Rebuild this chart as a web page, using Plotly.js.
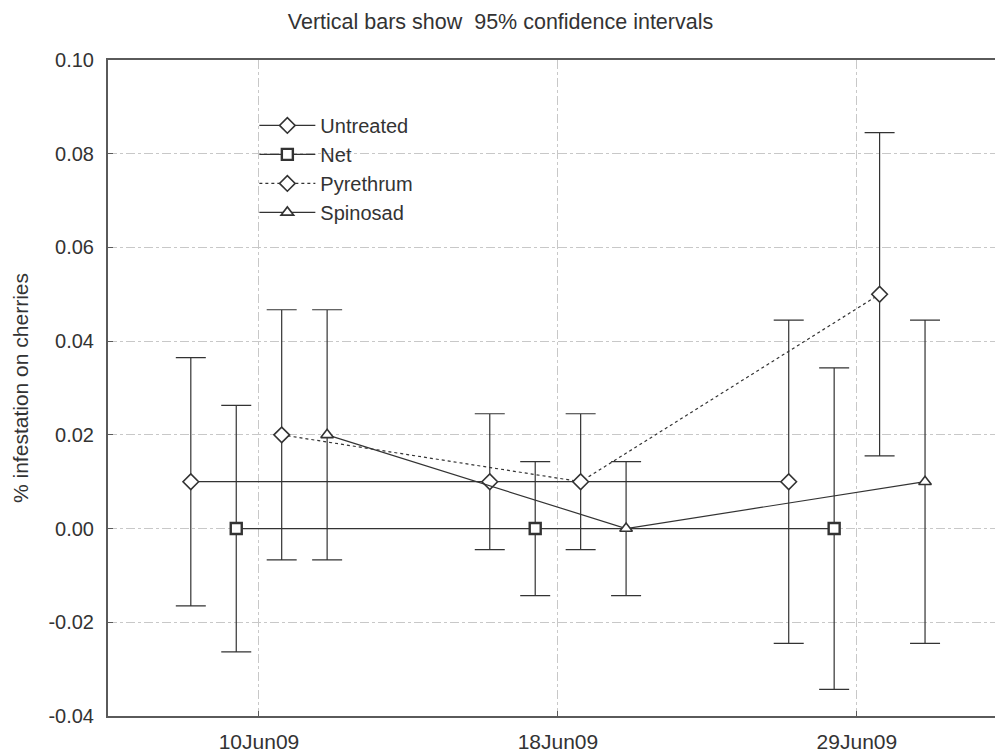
<!DOCTYPE html>
<html>
<head>
<meta charset="utf-8">
<script src="https://cdn.plot.ly/plotly-3.0.1.min.js"></script>
<style>html,body{margin:0;padding:0;background:#fff;}#chart{width:997px;height:752px;}</style>
</head>
<body>
<div id="chart"></div>
<script>
// ---- data ----
const dates = ['10Jun09', '18Jun09', '29Jun09'];
const seriesNames = ['Untreated', 'Net', 'Pyrethrum', 'Spinosad'];
const untreated = [0.01, 0.01, 0.01];
const untreatedCI = [0.0265, 0.0145, 0.0345];
const net = [0.0, 0.0, 0.0];
const netCI = [0.0263, 0.0143, 0.0343];
const pyrethrum = [0.02, 0.01, 0.05];
const pyrethrumCI = [0.0267, 0.0145, 0.0345];
const spinosad = [0.02, 0.0, 0.01];
const spinosadCI = [0.0267, 0.0143, 0.0345];
const yTicks = [-0.04, -0.02, 0.00, 0.02, 0.04, 0.06, 0.08, 0.10];

// ---- styling ----
const ink = '#333333';
const offsets = [-0.228, -0.076, 0.076, 0.228];
const styles = [
  {symbol: 'diamond', size: 12, dash: 'solid'},
  {symbol: 'square', size: 11, dash: 'solid'},
  {symbol: 'diamond', size: 12, dash: 'dot'},
  {symbol: 'triangle-up', size: 11, dash: 'solid'}
];
const values = [untreated, net, pyrethrum, spinosad];
const cis = [untreatedCI, netCI, pyrethrumCI, spinosadCI];

const traces = seriesNames.map((name, s) => ({
  type: 'scatter',
  mode: 'lines+markers',
  name: name,
  x: dates.map((d, i) => i + offsets[s]),
  y: values[s],
  line: {color: ink, width: 1.2, dash: styles[s].dash},
  marker: {symbol: styles[s].symbol, size: styles[s].size, color: '#ffffff',
           line: {color: ink, width: s === 1 ? 2.4 : 1.6}},
  error_y: {type: 'data', array: cis[s], visible: true, color: ink, thickness: 1.2, width: 15}
}));

const layout = {
  width: 997, height: 752,
  margin: {l: 108, r: 2, t: 60, b: 36},
  paper_bgcolor: '#ffffff', plot_bgcolor: '#ffffff',
  font: {family: 'Liberation Sans, Arial, sans-serif', color: ink, size: 21},
  title: {text: 'Vertical bars show&nbsp;&nbsp;95% confidence intervals', x: 0.502, xref: 'container',
          y: 0.971, yref: 'container', yanchor: 'middle', font: {size: 21.5, color: ink}},
  showlegend: true,
  legend: {x: 0.165, y: 0.93, xanchor: 'left', yanchor: 'top', bgcolor: 'rgba(0,0,0,0)',
           font: {size: 20, color: ink}, traceorder: 'normal', itemwidth: 56},
  xaxis: {
    range: [-0.505, 2.462],
    tickvals: dates.map((d, i) => i), ticktext: dates,
    showgrid: true, gridcolor: '#c8c8c8', griddash: 'dashdot', gridwidth: 1,
    zeroline: false, showline: true, linecolor: '#5a5a5a', linewidth: 2, mirror: true,
    ticks: 'inside', ticklen: 5, tickcolor: '#5a5a5a',
    tickfont: {size: 21, color: ink}, ticklabelstandoff: 6
  },
  yaxis: {
    range: [-0.04, 0.10],
    tickvals: yTicks, ticktext: yTicks.map(v => v.toFixed(2)),
    showgrid: true, gridcolor: '#c8c8c8', griddash: 'dashdot', gridwidth: 1,
    zeroline: false, showline: true, linecolor: '#5a5a5a', linewidth: 2,
    ticks: 'inside', ticklen: 5, tickcolor: '#5a5a5a',
    tickfont: {size: 20, color: ink}, ticklabelstandoff: 8,
    title: {text: '% infestation on cherries', font: {size: 21, color: ink}, standoff: 14}
  }
};

Plotly.newPlot('chart', traces, layout, {displayModeBar: false, staticPlot: true});
</script>
</body>
</html>
